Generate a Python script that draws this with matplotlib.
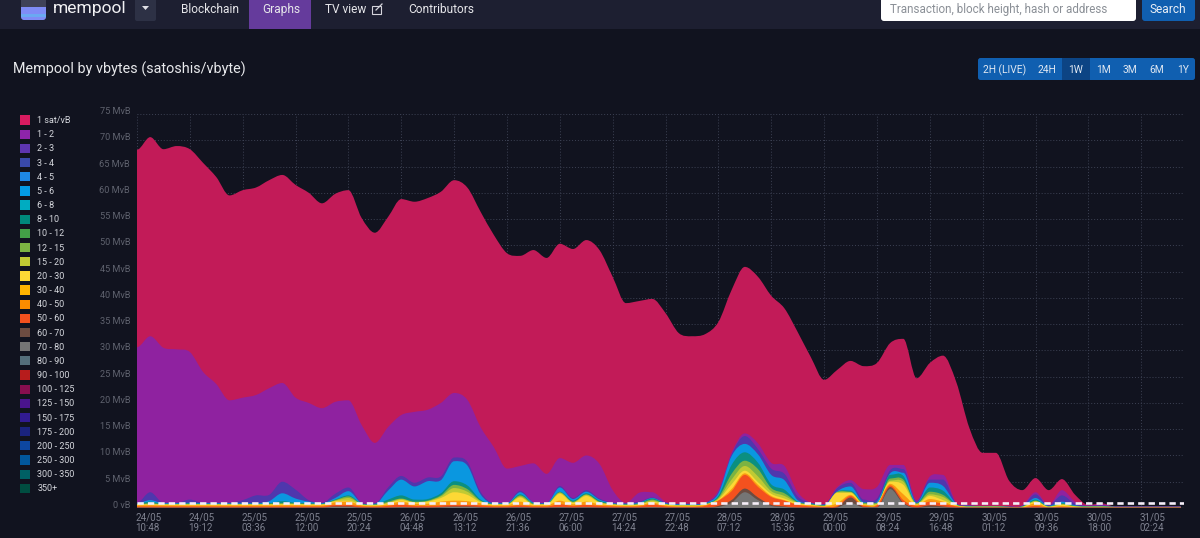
import numpy as np
import matplotlib
matplotlib.use('Agg')
import matplotlib.pyplot as plt
from matplotlib.patches import Rectangle, FancyBboxPatch, PathPatch
from matplotlib.path import Path
from matplotlib.transforms import ScaledTranslation

plt.rcParams['font.family'] = ['Roboto', 'DejaVu Sans']

# upper edge of each fee band in the stack, MvB, one value every 2.1 hours
top_1sat = [68.2,70.6,68.3,68.9,68.3,65.7,63.0,59.5,60.5,61.0,
            62.4,63.4,61.5,60.0,58.0,59.8,60.5,55.2,52.4,55.4,
            58.8,58.3,59.0,60.2,62.4,61.0,56.4,52.0,48.5,48.0,
            49.1,47.6,50.3,49.3,51.0,49.1,44.0,39.0,39.4,39.8,
            37.1,33.3,32.7,33.1,35.4,41.5,45.9,44.0,40.4,38.0,
            33.5,28.7,24.4,26.3,28.0,27.0,27.6,31.4,32.2,24.7,
            27.6,29.0,24.0,15.2,10.5,10.5,5.2,3.4,5.7,3.4,
            5.5,2.5,0.6,0.9,0.3,0.3,0.3,0.3,0.3,0.3]
top_1_2 = [30.6,32.7,30.5,30.2,29.7,25.9,23.6,20.5,21.0,21.5,
           22.8,23.8,21.0,20.0,19.0,20.2,20.5,15.8,12.4,15.4,
           17.7,18.3,18.7,20.0,21.9,20.6,15.4,11.6,7.5,8.0,
           8.5,6.5,9.5,8.6,10.0,8.4,3.4,1.0,2.9,3.0,
           1.2,0.8,0.8,1.0,3.4,10.5,14.2,12.3,8.6,8.0,
           3.0,1.0,0.7,4.0,5.3,3.6,4.0,8.2,8.2,1.5,
           6.0,6.3,1.0,0.5,0.4,0.4,0.3,0.5,3.0,0.6,
           3.4,1.2,0.5,0.7,0.3,0.3,0.3,0.3,0.3,0.3]
top_3_4 = [1.0,3.0,1.0,1.0,1.6,1.0,1.0,1.0,1.5,2.4,
           2.5,5.0,3.5,1.5,1.0,2.7,3.9,1.0,0.9,3.9,
           6.1,4.8,5.8,6.0,9.6,8.8,3.1,1.0,1.0,3.3,
           1.1,1.0,4.2,1.9,3.4,1.8,1.0,0.9,1.2,2.0,
           1.0,0.8,0.8,1.0,3.0,10.2,13.7,11.2,7.5,6.5,
           2.2,1.0,0.7,3.8,4.8,1.6,1.8,7.2,7.4,1.2,
           5.4,5.4,0.9,0.5,0.4,0.4,0.3,0.4,2.6,0.5,
           2.4,0.8,0.4,0.5,0.3,0.3,0.3,0.3,0.3,0.3]
top_5_6 = [0.9,1.5,0.9,0.9,1.0,0.9,0.9,0.9,0.9,0.9,
           1.3,2.8,1.8,1.2,0.9,1.9,3.2,0.9,0.8,3.3,
           5.4,4.1,5.1,5.3,8.9,8.1,2.6,0.9,0.9,3.0,
           1.0,0.9,3.9,1.7,3.1,1.6,0.9,0.8,1.0,1.9,
           0.9,0.7,0.7,0.9,2.8,9.9,12.2,10.2,6.3,5.3,
           1.5,0.9,0.6,3.2,4.1,1.1,1.2,6.6,6.7,1.0,
           4.8,4.2,0.8,0.4,0.3,0.3,0.2,0.3,1.9,0.4,
           1.2,0.5,0.3,0.3,0.2,0.2,0.2,0.2,0.2,0.2]
top_8_10 = [0.8,1.2,0.8,0.8,0.9,0.8,0.8,0.8,0.8,0.8,
            0.9,1.3,1.0,0.9,0.8,1.6,2.4,0.8,0.7,1.6,
            2.4,1.6,1.7,2.8,5.1,4.3,1.6,0.8,0.8,2.6,
            0.9,0.8,3.1,1.4,2.8,1.4,0.8,0.7,0.9,1.8,
            0.8,0.6,0.6,0.8,2.3,8.2,10.6,8.6,4.5,3.5,
            1.2,0.8,0.5,3.1,3.3,1.0,1.0,6.3,6.1,0.9,
            3.9,3.3,0.7,0.3,0.3,0.3,0.2,0.3,1.6,0.3,
            0.9,0.4,0.3,0.3,0.2,0.2,0.2,0.2,0.2,0.2]
top_12_15 = [0.75,0.9,0.75,0.75,0.8,0.75,0.75,0.75,0.75,0.75,
             0.8,0.9,0.85,0.8,0.75,1.5,2.2,0.75,0.65,1.2,
             1.8,1.2,1.4,2.4,4.4,3.6,1.4,0.75,0.75,2.4,
             0.8,0.75,3.0,1.2,2.6,1.2,0.75,0.65,0.8,1.6,
             0.75,0.55,0.55,0.75,2.0,6.5,9.0,7.4,3.8,2.8,
             1.1,0.7,0.45,3.05,3.1,0.9,0.9,5.6,5.4,0.85,
             3.1,2.5,0.6,0.3,0.3,0.3,0.2,0.25,1.4,0.3,
             0.8,0.35,0.25,0.3,0.2,0.2,0.2,0.2,0.2,0.2]
top_15_20 = [0.7,0.8,0.7,0.7,0.7,0.7,0.7,0.7,0.7,0.7,
             0.7,0.8,0.8,0.7,0.7,1.4,1.9,0.7,0.6,1.0,
             1.7,1.1,1.3,2.2,3.8,3.1,1.3,0.7,0.7,2.2,
             0.7,0.7,2.9,1.1,2.5,1.1,0.7,0.6,0.7,1.4,
             0.7,0.5,0.5,0.7,1.8,5.4,8.0,6.0,3.2,2.3,
             1.0,0.65,0.4,3.0,3.0,0.8,0.8,5.2,5.0,0.8,
             2.6,2.1,0.55,0.25,0.25,0.25,0.2,0.25,1.3,0.25,
             0.7,0.3,0.25,0.25,0.2,0.2,0.2,0.2,0.2,0.2]
top_20_30 = [0.65,0.7,0.65,0.65,0.65,0.65,0.65,0.65,0.65,0.65,
             0.65,0.7,0.7,0.65,0.65,1.3,1.4,0.6,0.5,0.9,
             1.5,1.0,1.2,1.9,3.0,2.5,1.1,0.65,0.65,2.0,
             0.65,0.65,2.7,1.0,2.3,1.0,0.65,0.5,0.65,1.2,
             0.65,0.45,0.45,0.65,1.6,4.5,7.1,4.9,2.7,1.8,
             0.9,0.6,0.35,2.9,2.9,0.7,0.8,5.0,4.4,0.7,
             2.3,1.5,0.5,0.2,0.2,0.2,0.2,0.2,1.2,0.2,
             0.6,0.25,0.2,0.2,0.2,0.2,0.2,0.2,0.2,0.2]
top_40_50 = [0.5,0.55,0.5,0.5,0.5,0.5,0.5,0.5,0.5,0.5,
             0.5,0.55,0.55,0.5,0.5,1.1,1.2,0.5,0.4,0.7,
             1.2,0.8,0.8,1.2,1.4,1.3,0.9,0.5,0.5,1.2,
             0.5,0.5,1.4,0.7,1.2,0.7,0.5,0.4,0.5,1.0,
             0.5,0.35,0.35,0.6,1.5,3.6,6.6,4.4,2.3,1.5,
             0.7,0.5,0.3,0.9,2.5,0.6,0.7,4.6,2.6,0.6,
             1.7,1.2,0.4,0.15,0.15,0.15,0.15,0.15,0.9,0.15,
             0.4,0.2,0.15,0.15,0.15,0.15,0.15,0.15,0.15,0.15]
top_50_60 = [0.3,0.3,0.3,0.3,0.3,0.3,0.3,0.3,0.3,0.3,
             0.3,0.3,0.3,0.3,0.3,0.6,0.6,0.3,0.25,0.4,
             0.7,0.4,0.4,0.5,0.6,0.6,0.5,0.3,0.3,0.5,
             0.3,0.3,0.7,0.4,0.6,0.4,0.3,0.25,0.3,0.7,
             0.3,0.2,0.2,0.4,1.4,3.2,6.3,4.0,2.1,1.4,
             0.6,0.3,0.2,0.4,2.3,0.4,0.5,4.3,1.5,0.4,
             1.2,0.8,0.3,0.1,0.1,0.1,0.1,0.1,0.4,0.1,
             0.2,0.1,0.1,0.1,0.1,0.1,0.1,0.1,0.1,0.1]
top_60_70 = [0.1,0.1,0.1,0.1,0.1,0.1,0.1,0.1,0.1,0.1,
             0.1,0.1,0.1,0.1,0.1,0.3,0.3,0.1,0.1,0.1,
             0.2,0.1,0.1,0.2,0.3,0.3,0.2,0.1,0.1,0.2,
             0.1,0.1,0.2,0.1,0.2,0.1,0.1,0.1,0.1,0.2,
             0.1,0.1,0.1,0.1,0.4,1.5,3.7,2.0,0.6,0.3,
             0.1,0.1,0.1,0.2,2.0,0.2,0.2,4.0,1.0,0.1,
             0.5,0.3,0.1,0.1,0.1,0.1,0.1,0.1,0.1,0.1,
             0.1,0.1,0.1,0.1,0.1,0.1,0.1,0.1,0.1,0.1]
top_70_80 = [0.05,0.05,0.05,0.05,0.05,0.05,0.05,0.05,0.05,0.05,
             0.05,0.05,0.05,0.05,0.05,0.2,0.2,0.05,0.05,0.05,
             0.1,0.05,0.05,0.1,0.2,0.2,0.1,0.05,0.05,0.1,
             0.05,0.05,0.1,0.05,0.1,0.05,0.05,0.05,0.05,0.1,
             0.05,0.05,0.05,0.05,0.2,1.0,3.0,1.5,0.4,0.2,
             0.05,0.05,0.05,0.1,1.0,0.1,0.1,3.6,0.8,0.05,
             0.2,0.1,0.05,0.05,0.05,0.05,0.05,0.05,0.05,0.05,
             0.05,0.05,0.05,0.05,0.05,0.05,0.05,0.05,0.05,0.05]

band_tops = [top_1sat, top_1_2, top_3_4, top_5_6, top_8_10, top_12_15,
             top_15_20, top_20_30, top_40_50, top_50_60, top_60_70, top_70_80]
band_colors = ['#c21b58', '#8f22a0', '#4f37ad', '#0a97e0', '#0b8f80', '#7cb342',
               '#c0ca33', '#fdd835', '#fb9a10', '#f4511e', '#6d4c41', '#757575']

fee_labels = ['1 sat/vB', '1 - 2', '2 - 3', '3 - 4', '4 - 5', '5 - 6', '6 - 8', '8 - 10', '10 - 12',
              '12 - 15', '15 - 20', '20 - 30', '30 - 40', '40 - 50', '50 - 60', '60 - 70', '70 - 80',
              '80 - 90', '90 - 100', '100 - 125', '125 - 150', '150 - 175', '175 - 200', '200 - 250',
              '250 - 300', '300 - 350', '350+']
fee_colors = ['#D81B60', '#8E24AA', '#5E35B1', '#3949AB', '#1E88E5', '#039BE5', '#00ACC1', '#00897B', '#43A047',
              '#7CB342', '#C0CA33', '#FDD835', '#FFB300', '#FB8C00', '#F4511E', '#6D4C41', '#757575',
              '#546E7A', '#B71C1C', '#880E4F', '#4A148C', '#311B92', '#1A237E', '#0D47A1',
              '#01579B', '#006064', '#004D40']

x_labels = ['24/05\n10:48', '24/05\n19:12', '25/05\n03:36', '25/05\n12:00', '25/05\n20:24',
            '26/05\n04:48', '26/05\n13:12', '26/05\n21:36', '27/05\n06:00', '27/05\n14:24',
            '27/05\n22:48', '28/05\n07:12', '28/05\n15:36', '29/05\n00:00', '29/05\n08:24',
            '29/05\n16:48', '30/05\n01:12', '30/05\n09:36', '30/05\n18:00', '31/05\n02:24']
y_labels = ['0 vB'] + ['%d MvB' % v for v in range(5, 80, 5)]
ranges = ['2H (LIVE)', '24H', '1W', '1M', '3M', '6M', '1Y']

BG = '#11131f'
W, H = 1200, 538


def smooth_area(x, y, color):
    # area under y with bezier segments through the points, flat at local extremes
    x = np.asarray(x, float)
    y = np.asarray(y, float)
    dx = x[1] - x[0]
    m = np.zeros(len(y))
    for i in range(1, len(y) - 1):
        if (y[i] - y[i - 1]) * (y[i + 1] - y[i]) > 0:
            m[i] = (y[i + 1] - y[i - 1]) / (2 * dx)
    verts = [(x[0], 0), (x[0], y[0])]
    codes = [Path.MOVETO, Path.LINETO]
    for i in range(len(y) - 1):
        verts += [(x[i] + dx / 3, y[i] + m[i] * dx / 3),
                  (x[i + 1] - dx / 3, y[i + 1] - m[i + 1] * dx / 3),
                  (x[i + 1], y[i + 1])]
        codes += [Path.CURVE4] * 3
    verts += [(x[-1], 0), (x[0], 0)]
    codes += [Path.LINETO, Path.CLOSEPOLY]
    return PathPatch(Path(verts, codes), facecolor=color, edgecolor='none', zorder=2)


fig = plt.figure(figsize=(W / 100, H / 100), dpi=100, facecolor=BG)
ax = fig.add_axes([137 / W, 1 - 508 / H, (1184 - 137) / W, (508 - 114) / H], facecolor=BG)

hours = np.arange(len(top_1sat)) * 2.1
for top, col in zip(band_tops, band_colors):
    ax.add_patch(smooth_area(hours, top, col))

# 1 MvB block line
ax.axhline(1, color='#f6eef8', lw=1.9, linestyle=(0, (2.4, 1.55)), zorder=4)
ax.axhline(0, color='#3a3d50', lw=1, zorder=1)

ax.set_xlim(0, 166.4)
ax.set_ylim(0, 75)
ax.set_xticks(np.arange(20) * 8.4)
ax.set_xticklabels(x_labels, ha='left', fontsize=7, color='#7f8290', linespacing=1.0)
ax.set_yticks(np.arange(0, 80, 5))
ax.set_yticklabels(y_labels, va='center', fontsize=6.6, color='#5f626e')
ax.tick_params(length=0, pad=5)
ax.tick_params(axis='x', pad=3.5)
px = 0.72 / 72
up = ScaledTranslation(0, 2.5 * px, fig.dpi_scale_trans)
for lbl in ax.get_yticklabels():
    lbl.set_transform(lbl.get_transform() + up)
back = ScaledTranslation(-1.5 * px, 0, fig.dpi_scale_trans)
for lbl in ax.get_xticklabels():
    lbl.set_transform(lbl.get_transform() + back)
ax.grid(True, color='#3d4254', lw=0.7, linestyle=(0, (1, 2)), zorder=1)
ax.set_axisbelow(True)
for s in ax.spines.values():
    s.set_visible(False)

handles = [Rectangle((0, 0), 1, 1, facecolor=c, edgecolor='none') for c in fee_colors]
leg = fig.legend(handles, fee_labels, loc='upper left', bbox_to_anchor=(20 / W, 1 - 115.5 / H),
                 bbox_transform=fig.transFigure, frameon=False, fontsize=6.5, labelcolor='#d5d7dd',
                 handlelength=1.08, handleheight=1.2, handletextpad=0.85, labelspacing=0.497,
                 borderpad=0, borderaxespad=0)

# page chrome, in pixels
ui = fig.add_axes([0, 0, 1, 1], facecolor='none', zorder=5)
ui.set_xlim(0, W)
ui.set_ylim(H, 0)
ui.axis('off')

ui.add_patch(Rectangle((0, 0), W, 29, color='#1d1f31', lw=0))
ui.add_patch(Rectangle((249, 0), 62, 29, color='#653b9c', lw=0))
ui.add_patch(FancyBboxPatch((21, -6), 25, 26, boxstyle='round,pad=0,rounding_size=3', color='#7f8cf6', lw=0))
ui.add_patch(Rectangle((21, 0), 25, 7, color='#3f4258', lw=0))
ui.add_patch(Rectangle((21, 14), 25, 3, color='#6aa9f2', lw=0))
ui.add_patch(FancyBboxPatch((135, -6), 21, 27, boxstyle='round,pad=0,rounding_size=2', color='#2d3145', lw=0))
ui.fill([142, 149, 145.5], [6, 6, 10], color='#e0e0e5', lw=0)

ui.text(53, 8.5, 'mempool', color='#f1f1f4', fontsize=12.6, va='center', ha='left')
for label, x in [('Blockchain', 181), ('Graphs', 262), ('TV view', 325), ('Contributors', 408)]:
    ui.text(x, 9.5, label, color='#e6e6ea', fontsize=8.6, va='center', ha='left')
ui.add_patch(Rectangle((371.5, 6), 9, 8, fill=False, ec='#d5d5dc', lw=0.8))
ui.plot([376, 382], [10, 4], color='#d5d5dc', lw=0.9)

ui.add_patch(FancyBboxPatch((881, -6), 255, 27, boxstyle='round,pad=0,rounding_size=3', color='white', lw=0))
ui.text(890, 9.5, 'Transaction, block height, hash or address', color='#8a8f96', fontsize=8.4,
        va='center', ha='left')
ui.add_patch(FancyBboxPatch((1142, -6), 53, 27, boxstyle='round,pad=0,rounding_size=3', color='#105fb0', lw=0))
ui.text(1168, 9.5, 'Search', color='#e8eef6', fontsize=8.6, va='center', ha='center')

ui.text(13, 69, 'Mempool by vbytes (satoshis/vbyte)', color='#e8e9ec', fontsize=10.4, va='center', ha='left')

ui.add_patch(FancyBboxPatch((978, 58), 217, 22, boxstyle='round,pad=0,rounding_size=2.5', color='#105fb0', lw=0))
ui.add_patch(Rectangle((1062, 58), 28, 22, color='#0c4484', lw=0))
for label, x in zip(ranges, [1005, 1047, 1076, 1103, 1130, 1157, 1183]):
    ui.text(x, 70, label, color='#e0e8f2', fontsize=7.4, va='center', ha='center')

fig.savefig('out.png', dpi=100, facecolor=BG)
